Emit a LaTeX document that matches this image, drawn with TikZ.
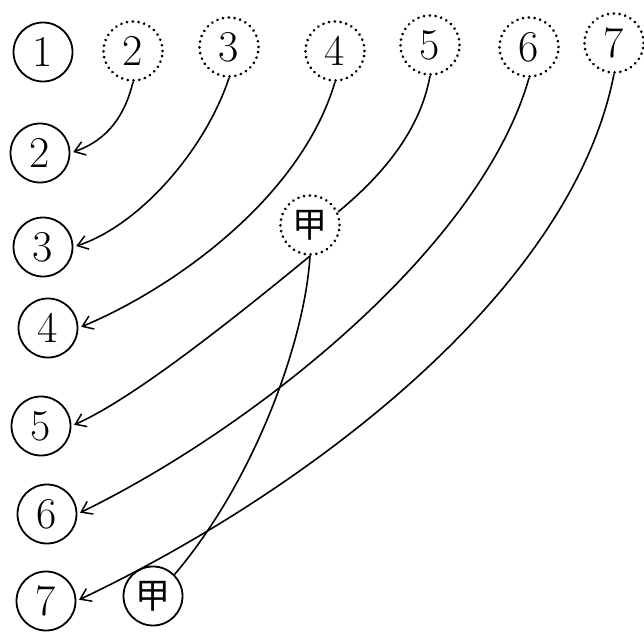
\documentclass[tikz,border=0pt]{standalone}
\usepackage{fontspec}
\newfontfamily\cjkfont{Noto Sans CJK SC}
\usetikzlibrary{arrows.meta}
\begin{document}
\begin{tikzpicture}[x=1pt,y=-1pt,
  solidc/.style={circle,draw,line width=1.8pt,minimum size=59pt,inner sep=0pt,font=\fontsize{44}{44}\selectfont},
  dotc/.style={circle,draw,line width=3pt,line cap=round,dash pattern=on 0.01pt off 5.8pt,minimum size=59pt,inner sep=0pt,font=\fontsize{44}{44}\selectfont},
  jia/.style={font=\cjkfont\fontsize{35}{35}\selectfont},
  link/.style={line width=1.6pt},
  arr/.style={link,-{Straight Barb[length=10pt,width=14pt,line width=1.5pt]},shorten >=3pt}]
\fill[white] (0,0) rectangle (644,634);
\useasboundingbox (0,0) rectangle (644,634);
% top row
\node[solidc] (t1) at (43,52) {1};
\node[dotc] (t2) at (133,51) {2};
\node[dotc] (t3) at (229,47) {3};
\node[dotc] (t4) at (335,51) {4};
\node[dotc] (t5) at (430,45) {5};
\node[dotc] (t6) at (529,47) {6};
\node[dotc] (t7) at (614,43) {7};
% left column
\node[solidc] (l2) at (40,153) {2};
\node[solidc] (l3) at (43,247) {3};
\node[solidc] (l4) at (48,328) {4};
\node[solidc] (l5) at (41,426) {5};
\node[solidc] (l6) at (47,514) {6};
\node[solidc] (l7) at (46,601) {7};
% jia nodes
\node[dotc,jia] (jm) at (310,225) {甲};
\node[solidc,jia] (jb) at (153,596) {甲};
% connectors
\draw[arr] (t2.south) .. controls (125,115) and (108,140) .. (l2.east);
\draw[arr] (t3.south) .. controls (205,150) and (140,225) .. (l3.east);
\draw[arr] (t4.south) .. controls (300,200) and (170,290) .. (l4.east);
\draw[link] (t5.south) .. controls (422,120) and (395,165) .. (jm.25);
\draw[arr] (jm.south) .. controls (220,330) and (130,400) .. (l5.east);
\draw[arr] (t6.south) .. controls (480,250) and (250,430) .. (l6.east);
\draw[arr] (t7.south) .. controls (570,300) and (290,500) .. (l7.east);
\draw[link] (jm.south) .. controls (305,340) and (255,480) .. (jb.north east);
\end{tikzpicture}
\end{document}
